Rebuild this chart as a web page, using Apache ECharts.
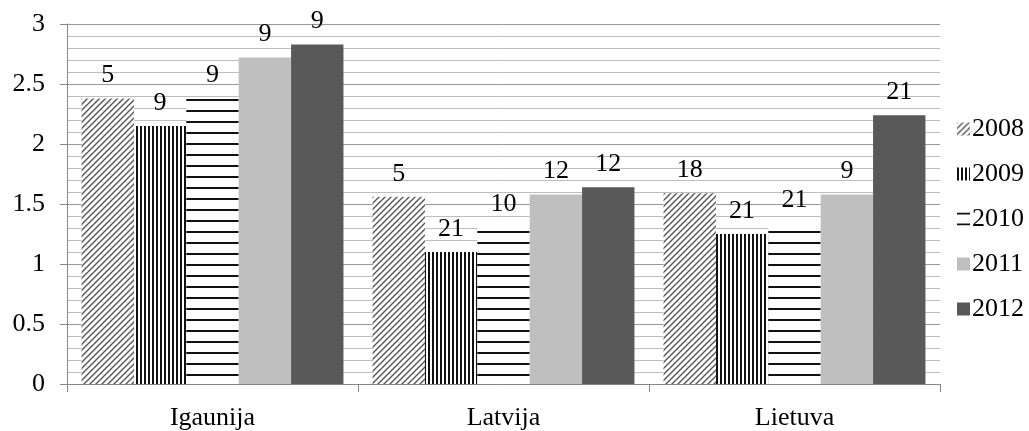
<!DOCTYPE html>
<html>
<head>
<meta charset="utf-8">
<script src="https://cdn.jsdelivr.net/npm/echarts@6/dist/echarts.min.js"></script>
<style>
  html, body { margin: 0; padding: 0; background: #fff; }
  #chart { width: 1029px; height: 431px; }
</style>
</head>
<body>
<div id="chart"></div>
<script>
// Countries on the category axis
const categories = ['Igaunija', 'Latvija', 'Lietuva'];
const years = ['2008', '2009', '2010', '2011', '2012'];

// Bar heights per year (one value per country)
const values2008 = [2.38, 1.56, 1.59];
const values2009 = [2.15, 1.10, 1.25];
const values2010 = [2.38, 1.31, 1.34];
const values2011 = [2.72, 1.58, 1.58];
const values2012 = [2.83, 1.64, 2.24];

// Text printed above each bar
const labels2008 = ['5', '5', '18'];
const labels2009 = ['9', '21', '21'];
const labels2010 = ['9', '10', '21'];
const labels2011 = ['9', '12', '9'];
const labels2012 = ['9', '12', '21'];

// Value axis ticks
const yTicks = [0, 0.5, 1, 1.5, 2, 2.5, 3];

const FONT = 'Liberation Serif';
const FS = 26;

// Pattern tiles for the hatched series
function makeTile(w, h, draw) {
  const c = document.createElement('canvas');
  c.width = w; c.height = h;
  const ctx = c.getContext('2d');
  ctx.fillStyle = '#ffffff';
  ctx.fillRect(0, 0, w, h);
  draw(ctx, w, h);
  return c;
}
const diagTile = makeTile(6, 6, (ctx, w, h) => {
  ctx.strokeStyle = '#555555';
  ctx.lineWidth = 1.4;
  ctx.beginPath();
  ctx.moveTo(-1, h + 1); ctx.lineTo(w + 1, -1);
  ctx.moveTo(-1 - w, h + 1); ctx.lineTo(1, -1);
  ctx.moveTo(w - 1, h + 1); ctx.lineTo(2 * w + 1, -1);
  ctx.stroke();
});
const vertTile = makeTile(4, 4, (ctx, w, h) => {
  ctx.fillStyle = '#111111';
  ctx.fillRect(0, 0, 2, h);
});
const horizTile = makeTile(8, 11, (ctx, w, h) => {
  ctx.fillStyle = '#111111';
  ctx.fillRect(0, 0, w, 2);
});

const fills = [
  { image: diagTile, repeat: 'repeat' },
  { image: vertTile, repeat: 'repeat' },
  { image: horizTile, repeat: 'repeat' },
  '#bfbfbf',
  '#595959'
];
const seriesValues = [values2008, values2009, values2010, values2011, values2012];
const seriesLabels = [labels2008, labels2009, labels2010, labels2011, labels2012];

const series = years.map((y, i) => ({
  name: y,
  type: 'bar',
  barGap: '0%',
  barCategoryGap: '10%',
  data: seriesValues[i],
  itemStyle: { color: fills[i] },
  label: {
    show: true,
    position: 'top',
    distance: 10,
    color: '#000',
    fontFamily: FONT,
    fontSize: FS,
    formatter: p => seriesLabels[i][p.dataIndex]
  }
}));

const chart = echarts.init(document.getElementById('chart'), null, { renderer: 'canvas' });
chart.setOption({
  animation: false,
  backgroundColor: '#ffffff',
  grid: { left: 67, right: 89, top: 24, bottom: 43, containLabel: false },
  legend: {
    orient: 'vertical',
    left: 952,
    top: 111,
    itemWidth: 13,
    itemHeight: 13,
    itemGap: 19,
    icon: 'rect',
    textStyle: { fontFamily: FONT, fontSize: FS, color: '#000', padding: [0, 0, 0, -3] },
    data: years
  },
  xAxis: {
    type: 'category',
    data: categories,
    boundaryGap: true,
    axisLine: { show: true, lineStyle: { color: '#868686', width: 1 } },
    axisTick: { show: true, alignWithLabel: false, length: 8, lineStyle: { color: '#868686' } },
    axisLabel: { fontFamily: FONT, fontSize: FS, color: '#000', margin: 21 }
  },
  yAxis: {
    type: 'value',
    min: yTicks[0],
    max: yTicks[yTicks.length - 1],
    interval: 0.5,
    axisLine: { show: true, lineStyle: { color: '#868686', width: 1 } },
    axisTick: { show: true, length: 7, lineStyle: { color: '#868686' } },
    axisLabel: { fontFamily: FONT, fontSize: FS, color: '#000', margin: 22 },
    splitLine: { show: true, lineStyle: { color: '#999999', width: 1 } },
    minorTick: { show: false, splitNumber: 5 },
    minorSplitLine: { show: true, lineStyle: { color: '#bdbdbd', width: 1 } }
  },
  series: series
});
</script>
</body>
</html>
